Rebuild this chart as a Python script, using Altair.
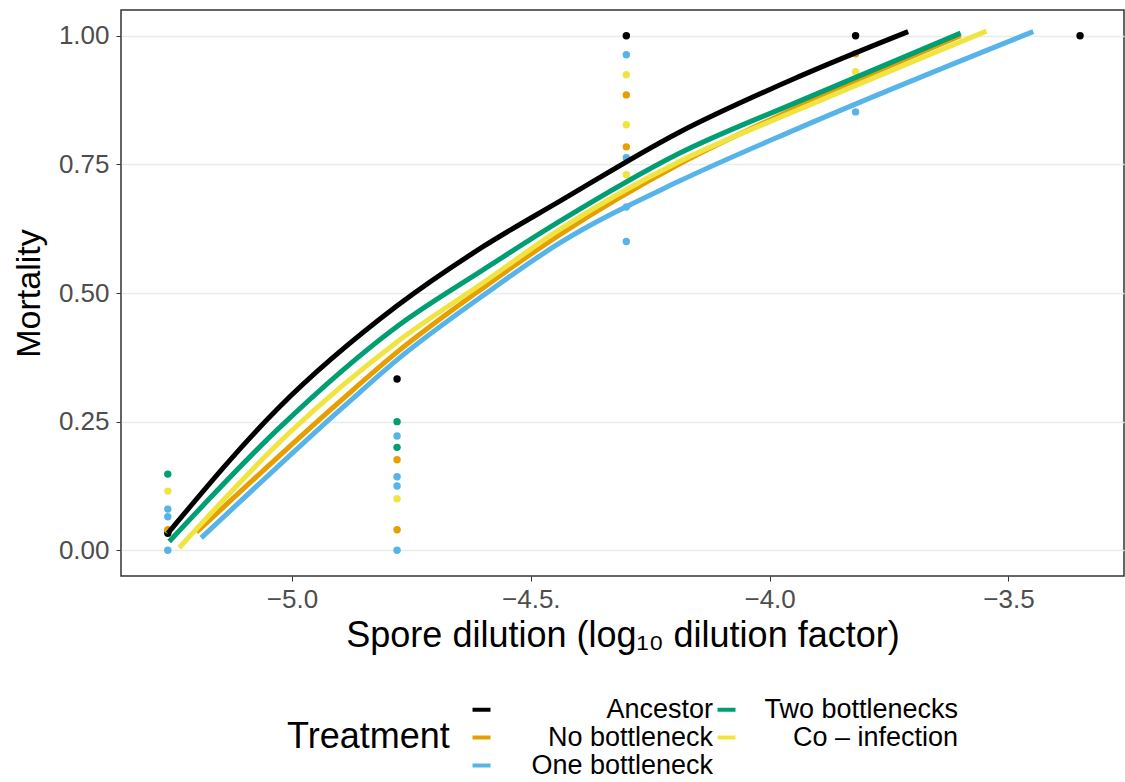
import altair as alt
import pandas as pd

# ---- data ----
treatments = ["Ancestor", "Two bottlenecks", "No bottleneck", "Co – infection", "One bottleneck"]
colors = ["#000000", "#009E73", "#E69F00", "#F0E442", "#56B4E9"]
draw_order = ["Ancestor", "No bottleneck", "One bottleneck", "Two bottlenecks", "Co – infection"]

# observed points
anc_x = [-5.26, -4.78, -4.30, -3.82, -3.35]
anc_y = [0.033, 0.333, 1.0, 1.0, 1.0]
two_x = [-5.26, -4.78, -4.78]
two_y = [0.148, 0.25, 0.20]
no_x = [-5.26, -4.78, -4.78, -4.30, -4.30, -3.82]
no_y = [0.04, 0.176, 0.04, 0.885, 0.784, 0.965]
co_x = [-5.26, -4.78, -4.30, -4.30, -4.30, -3.82]
co_y = [0.115, 0.10, 0.924, 0.827, 0.73, 0.93]
one_x = [-5.26, -5.26, -5.26, -4.78, -4.78, -4.78, -4.78, -4.30, -4.30, -4.30, -4.30, -3.82]
one_y = [0.08, 0.065, 0.0, 0.222, 0.143, 0.125, 0.0, 0.963, 0.763, 0.667, 0.60, 0.852]

# fitted curves
anc_cx = [-5.26, -5.03, -4.78, -4.60, -4.44, -4.19, -3.94, -3.71]
anc_cy = [0.033, 0.275, 0.475, 0.59, 0.678, 0.812, 0.92, 1.008]
two_cx = [-5.257, -5.03, -4.78, -4.60, -4.44, -4.19, -3.94, -3.60]
two_cy = [0.017, 0.235, 0.435, 0.545, 0.639, 0.771, 0.872, 1.005]
no_cx = [-5.20, -4.90, -4.78, -4.60, -4.44, -4.19, -3.94, -3.60]
no_cy = [0.035, 0.289, 0.385, 0.51, 0.613, 0.75, 0.862, 1.0]
co_cx = [-5.236, -5.006, -4.78, -4.60, -4.44, -4.19, -3.94, -3.546]
co_cy = [0.005, 0.228, 0.405, 0.52, 0.623, 0.755, 0.856, 1.009]
one_cx = [-5.19, -4.88, -4.78, -4.60, -4.44, -4.19, -3.94, -3.448]
one_cy = [0.024, 0.289, 0.37, 0.495, 0.597, 0.717, 0.82, 1.008]

x_ticks = [-5.0, -4.5, -4.0, -3.5]
y_ticks = [0.0, 0.25, 0.5, 0.75, 1.0]

pts = {"Ancestor": (anc_x, anc_y), "Two bottlenecks": (two_x, two_y),
       "No bottleneck": (no_x, no_y), "Co – infection": (co_x, co_y),
       "One bottleneck": (one_x, one_y)}
crv = {"Ancestor": (anc_cx, anc_cy), "Two bottlenecks": (two_cx, two_cy),
       "No bottleneck": (no_cx, no_cy), "Co – infection": (co_cx, co_cy),
       "One bottleneck": (one_cx, one_cy)}

prow, crow = [], []
for t in draw_order:
    xs, ys = pts[t]
    for a, b in zip(xs, ys):
        prow.append({"Treatment": t, "x": a, "y": b, "ord": draw_order.index(t)})
    xs, ys = crv[t]
    for a, b in zip(xs, ys):
        crow.append({"Treatment": t, "x": a, "y": b, "ord": draw_order.index(t)})
pdf = pd.DataFrame(prow)
cdf = pd.DataFrame(crow)

FONT = "Liberation Sans"

xscale = alt.Scale(domain=[-5.358, -3.258], nice=False, zero=False)
yscale = alt.Scale(domain=[-0.05, 1.05], nice=False, zero=False)
color = alt.Color("Treatment:N",
                  scale=alt.Scale(domain=treatments, range=colors),
                  legend=alt.Legend(
                      title="Treatment", orient="none", legendX=166, legendY=686,
                      direction="horizontal", columns=2, titleOrient="left",
                      titleFontSize=36, titleFont=FONT, titleFontWeight="normal",
                      titleColor="black", titlePadding=18,
                      labelFontSize=27, labelFont=FONT, labelColor="black",
                      labelAlign="right", labelOffset=218, labelLimit=400,
                      symbolType="stroke", symbolStrokeWidth=4, symbolSize=324,
                      columnPadding=-18, rowPadding=0))

xaxis = alt.Axis(values=x_ticks, grid=False, title="Spore dilution (log₁₀ dilution factor)",
                 labelExpr="datum.value == -4.5 ? '−4.5.' : format(datum.value, '.1f')",
                 labelFontSize=26, titleFontSize=36, labelPadding=5, titlePadding=6)
yaxis = alt.Axis(values=y_ticks, format=".2f", title="Mortality",
                 labelFontSize=26, titleFontSize=34, labelPadding=7, titlePadding=12,
                 gridColor="#EBEBEB", gridWidth=1.3)

points = alt.Chart(pdf).mark_circle(size=55, opacity=1).encode(
    x=alt.X("x:Q", scale=xscale, axis=xaxis),
    y=alt.Y("y:Q", scale=yscale, axis=yaxis),
    color=color,
    order=alt.Order("ord:Q"),
)
lines = alt.Chart(cdf).mark_line(strokeWidth=5, interpolate="monotone", strokeCap="butt").encode(
    x=alt.X("x:Q", scale=xscale),
    y=alt.Y("y:Q", scale=yscale),
    color=color,
    detail="ord:N",
    order=alt.Order("x:Q"),
)

chart = alt.layer(points, lines).properties(
    width=1003, height=566,
    autosize=alt.AutoSizeParams(type="none"),
    padding={"left": 121, "top": 10, "right": 1, "bottom": 206},
    background="white",
).configure_axis(
    labelFont=FONT, titleFont=FONT, labelColor="#4D4D4D", titleColor="black",
    titleFontWeight="normal", tickColor="#333333", tickSize=5, domain=False,
).configure_view(stroke="#333333", strokeWidth=1.5)

chart.save("out.html", embed_options={"renderer": "svg", "actions": False})
